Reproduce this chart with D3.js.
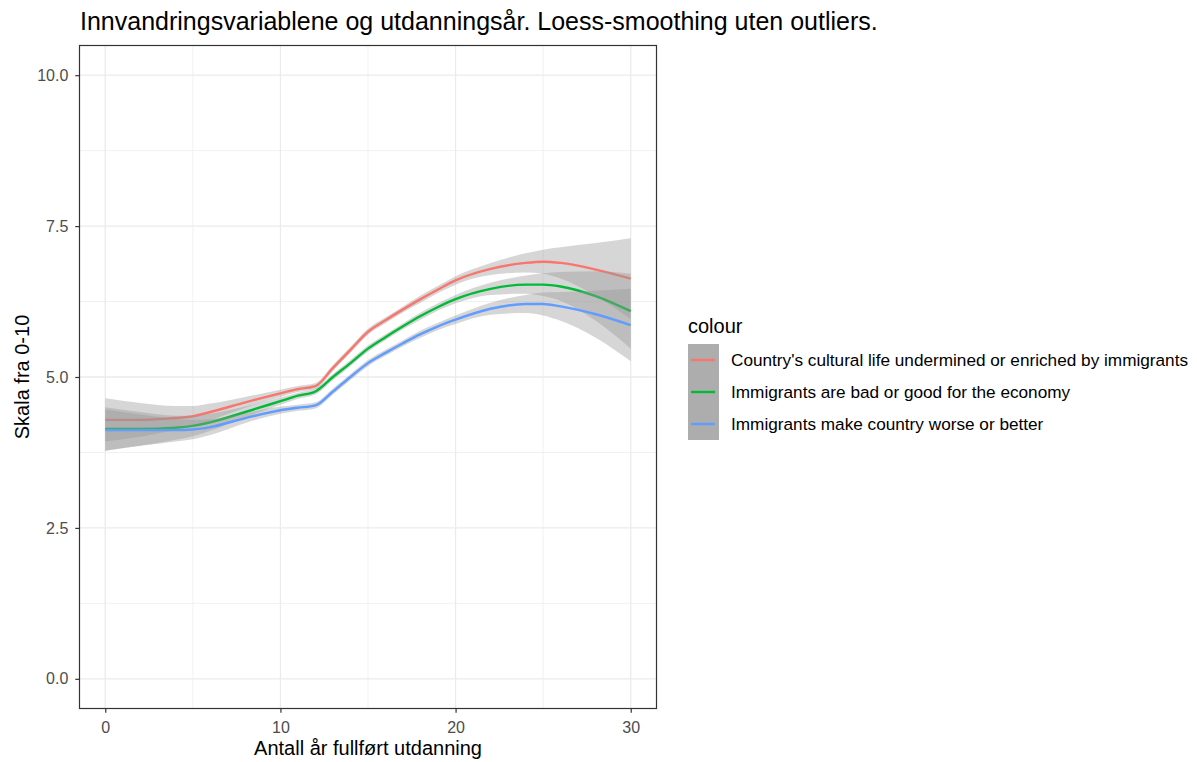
<!DOCTYPE html>
<html>
<head>
<meta charset="utf-8">
<script src="https://cdn.jsdelivr.net/npm/d3@7"></script>
<style>
  body { margin: 0; background: #fff; }
  text { font-family: "Liberation Sans", Arial, sans-serif; }
</style>
</head>
<body>
<svg id="chart" width="1197" height="762"></svg>
<script>
const titleText = "Innvandringsvariablene og utdanningsår. Loess-smoothing uten outliers.";
const xTitle = "Antall år fullført utdanning";
const yTitle = "Skala fra 0-10";
const legendTitle = "colour";
const seriesNames = [
  "Country's cultural life undermined or enriched by immigrants",
  "Immigrants are bad or good for the economy",
  "Immigrants make country worse or better"
];
const seriesColors = ["#F8766D", "#00BA38", "#619CFF"];
const xTicks = [0, 10, 20, 30];
const yTicks = [0, 2.5, 5, 7.5, 10];
const yTickLabels = ["0.0", "2.5", "5.0", "7.5", "10.0"];

const years = [0, 2, 4, 5, 6, 8, 10, 11, 12, 13, 14, 15, 16, 17, 18, 19, 20, 22, 24, 25, 26, 28, 30];
const cultural = [4.29, 4.29, 4.32, 4.35, 4.42, 4.58, 4.73, 4.80, 4.85, 5.15, 5.45, 5.75, 5.94, 6.12, 6.29, 6.45, 6.60, 6.79, 6.89, 6.91, 6.89, 6.78, 6.63];
const economy  = [4.14, 4.14, 4.16, 4.19, 4.25, 4.42, 4.60, 4.69, 4.76, 5.00, 5.23, 5.47, 5.66, 5.84, 6.01, 6.16, 6.29, 6.46, 6.53, 6.53, 6.50, 6.34, 6.09];
const better   = [4.12, 4.12, 4.12, 4.13, 4.17, 4.32, 4.45, 4.49, 4.53, 4.76, 5.00, 5.23, 5.40, 5.56, 5.71, 5.84, 5.95, 6.13, 6.21, 6.21, 6.17, 6.04, 5.86];
const culturalSE = [0.36, 0.28, 0.20, 0.17, 0.14, 0.09, 0.06, 0.05, 0.05, 0.05, 0.05, 0.05, 0.05, 0.05, 0.06, 0.06, 0.07, 0.10, 0.16, 0.20, 0.26, 0.44, 0.67];
const economySE  = [0.36, 0.28, 0.20, 0.17, 0.14, 0.09, 0.06, 0.05, 0.05, 0.05, 0.05, 0.05, 0.05, 0.05, 0.06, 0.06, 0.07, 0.10, 0.15, 0.19, 0.24, 0.41, 0.62];
const betterSE   = [0.34, 0.26, 0.19, 0.16, 0.13, 0.08, 0.06, 0.05, 0.05, 0.05, 0.05, 0.05, 0.05, 0.05, 0.06, 0.06, 0.07, 0.10, 0.15, 0.19, 0.24, 0.39, 0.60];

const seriesVals = [cultural, economy, better];
const seriesSE = [culturalSE, economySE, betterSE];

const svg = d3.select("#chart");
const panel = { left: 79, right: 657, top: 45, bottom: 709 };

const x = d3.scaleLinear().domain([-1.5, 31.5]).range([panel.left, panel.right]);
const y = d3.scaleLinear().domain([-0.5, 10.5]).range([panel.bottom, panel.top]);

// grid
const g = svg.append("g");
const xMinor = [5, 15, 25];
const yMinor = [1.25, 3.75, 6.25, 8.75];
g.selectAll(".xminor").data(xMinor).join("line")
  .attr("x1", d => x(d)).attr("x2", d => x(d)).attr("y1", panel.top).attr("y2", panel.bottom)
  .attr("stroke", "#EBEBEB").attr("stroke-width", 0.7);
g.selectAll(".yminor").data(yMinor).join("line")
  .attr("y1", d => y(d)).attr("y2", d => y(d)).attr("x1", panel.left).attr("x2", panel.right)
  .attr("stroke", "#EBEBEB").attr("stroke-width", 0.7);
g.selectAll(".xmajor").data(xTicks).join("line")
  .attr("x1", d => x(d)).attr("x2", d => x(d)).attr("y1", panel.top).attr("y2", panel.bottom)
  .attr("stroke", "#EBEBEB").attr("stroke-width", 1.3);
g.selectAll(".ymajor").data(yTicks).join("line")
  .attr("y1", d => y(d)).attr("y2", d => y(d)).attr("x1", panel.left).attr("x2", panel.right)
  .attr("stroke", "#EBEBEB").attr("stroke-width", 1.3);

// clip
svg.append("clipPath").attr("id", "clip").append("rect")
  .attr("x", panel.left).attr("y", panel.top)
  .attr("width", panel.right - panel.left).attr("height", panel.bottom - panel.top);

const area = d3.area()
  .x(d => x(d.x)).y0(d => y(d.lo)).y1(d => y(d.hi))
  .curve(d3.curveMonotoneX);
const line = d3.line().x(d => x(d.x)).y(d => y(d.y)).curve(d3.curveMonotoneX);

const plot = svg.append("g").attr("clip-path", "url(#clip)");
seriesVals.forEach((vals, i) => {
  const pts = years.map((yr, j) => ({ x: yr, y: vals[j], lo: vals[j] - seriesSE[i][j], hi: vals[j] + seriesSE[i][j] }));
  plot.append("path").datum(pts).attr("d", area)
    .attr("fill", "#999999").attr("fill-opacity", 0.4);
  plot.append("path").datum(pts).attr("d", line)
    .attr("fill", "none").attr("stroke", seriesColors[i]).attr("stroke-width", 2.4);
});

// panel border
svg.append("rect").attr("x", panel.left + 0.5).attr("y", panel.top + 0.5)
  .attr("width", panel.right - panel.left - 1).attr("height", panel.bottom - panel.top - 1)
  .attr("fill", "none").attr("stroke", "#333333").attr("stroke-width", 1.2);

// axes
const xAxis = d3.axisBottom(x).tickValues(xTicks).tickSize(3.7).tickPadding(9);
const yAxis = d3.axisLeft(y).tickValues(yTicks).tickFormat((d, i) => yTickLabels[i]).tickSize(3.7).tickPadding(7);
const xa = svg.append("g").attr("transform", `translate(0,${panel.bottom})`).call(xAxis);
const ya = svg.append("g").attr("transform", `translate(${panel.left},0)`).call(yAxis);
[xa, ya].forEach(a => {
  a.select(".domain").remove();
  a.selectAll(".tick line").attr("stroke", "#333333").attr("stroke-width", 1.2);
  a.selectAll(".tick text").attr("fill", "#4D4D4D").style("font-size", "16px")
    .style("font-family", "'Liberation Sans', Arial, sans-serif");
});

// titles
svg.append("text").attr("x", panel.left + 1).attr("y", 30)
  .style("font-size", "25px").attr("fill", "#000").text(titleText);
svg.append("text").attr("x", (panel.left + panel.right) / 2).attr("y", 755)
  .attr("text-anchor", "middle").style("font-size", "20px").attr("fill", "#000").text(xTitle);
svg.append("text").attr("transform", `translate(29,${(panel.top + panel.bottom) / 2}) rotate(-90)`)
  .attr("text-anchor", "middle").style("font-size", "20px").attr("fill", "#000").text(yTitle);

// legend
const lg = svg.append("g");
lg.append("text").attr("x", 688).attr("y", 333).style("font-size", "20px").attr("fill", "#000").text(legendTitle);
const keyTop = 344, keyH = 32;
seriesNames.forEach((name, i) => {
  const ky = keyTop + i * keyH;
  lg.append("rect").attr("x", 688).attr("y", ky).attr("width", 31).attr("height", keyH)
    .attr("fill", "#ADADAD");
  lg.append("line").attr("x1", 691).attr("x2", 715).attr("y1", ky + keyH / 2).attr("y2", ky + keyH / 2)
    .attr("stroke", seriesColors[i]).attr("stroke-width", 2.4);
  lg.append("text").attr("x", 731).attr("y", ky + keyH / 2 + 6)
    .style("font-size", "17.2px").attr("fill", "#000").text(name);
});
</script>
</body>
</html>
